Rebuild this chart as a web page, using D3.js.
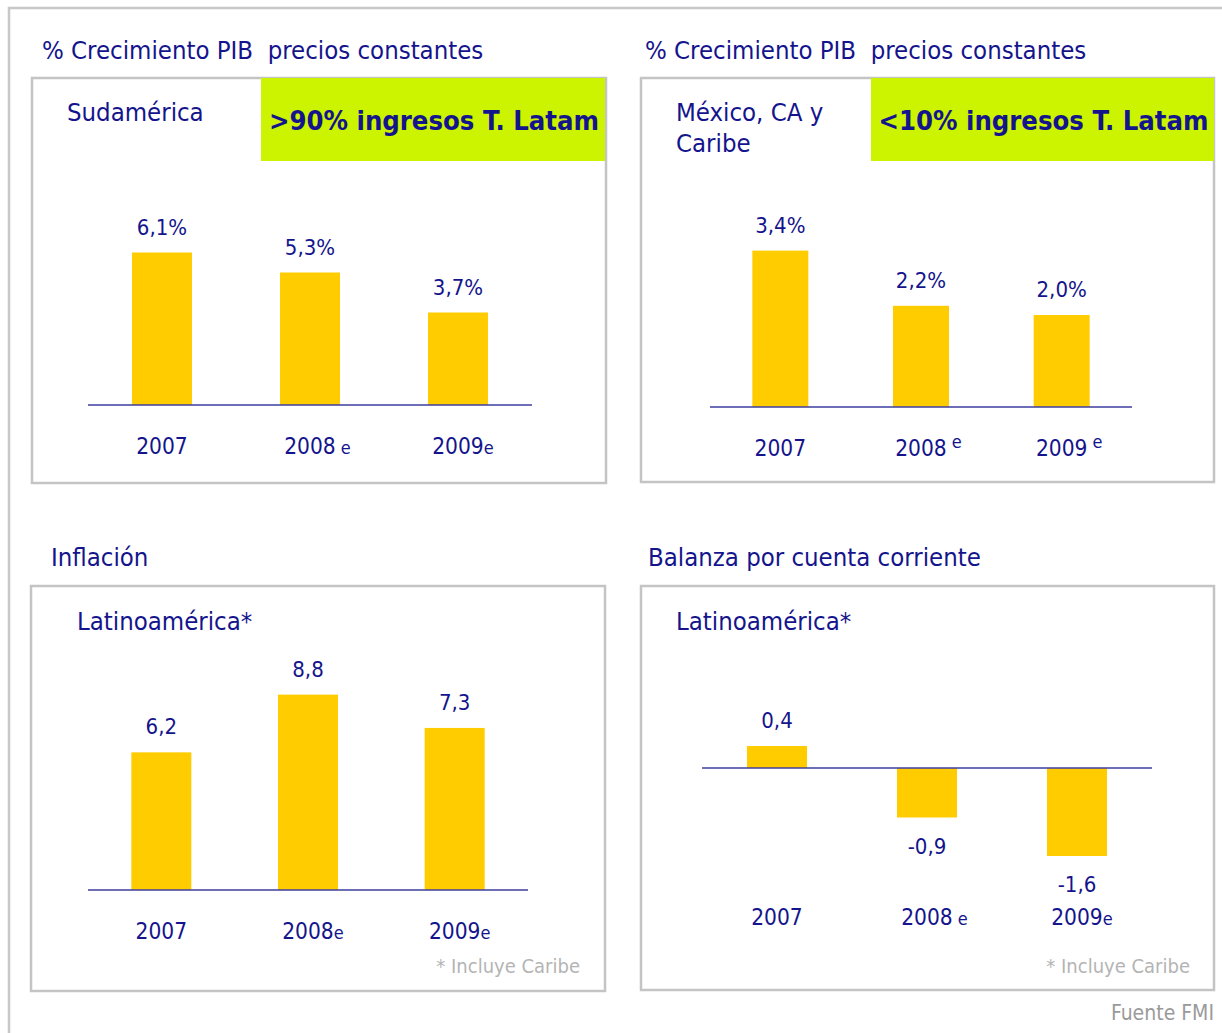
<!DOCTYPE html>
<html>
<head>
<meta charset="utf-8">
<script src="https://cdn.jsdelivr.net/npm/d3@7"></script>
<style>
  body { margin: 0; background: #fff; }
  svg text { font-family: 'DejaVu Sans Condensed', 'DejaVu Sans', sans-serif; white-space: pre; }
</style>
</head>
<body>
<script>
// datos (Fuente FMI)
var years = ["2007", "2008", "2009"];
var suffixSud = ["", " e", "e"];
var suffixMex = ["", " e", " e"];
var suffixInf = ["", "e", "e"];
var suffixBal = ["", " e", "e"];

var pibSudamerica = [6.1, 5.3, 3.7];
var pibMexico = [3.4, 2.2, 2.0];
var inflacion = [6.2, 8.8, 7.3];
var balanza = [0.4, -0.9, -1.6];

var labelsSud = ["6,1%", "5,3%", "3,7%"];
var labelsMex = ["3,4%", "2,2%", "2,0%"];
var labelsInf = ["6,2", "8,8", "7,3"];
var labelsBal = ["0,4", "-0,9", "-1,6"];

var azul = "#14148c";
var amarillo = "#ffcc00";
var verde = "#ccf400";
var gris = "#c4c4c4";

var svg = d3.select("body").append("svg")
    .attr("width", 1222)
    .attr("height", 1033);

// marco exterior
svg.append("path")
    .attr("d", "M9,1033 V8 H1222")
    .attr("fill", "none")
    .attr("stroke", "#c8c8c8")
    .attr("stroke-width", 2.5);

// configuracion de los cuatro paneles
var panels = [
  { title: "% Crecimiento PIB  precios constantes", tx: 42, ty: 59,
    box: [32, 78, 574, 405], sub: ["Sudamérica"], sx: 67, sy: 121,
    green: { x: 261, w: 344, text: ">90% ingresos T. Latam" },
    values: pibSudamerica, labels: labelsSud, suffix: suffixSud, raise: false,
    xr: [88, 532], pad: 0.595, dom: [0, 8], yr: [405, 205], yearY: 454 },
  { title: "% Crecimiento PIB  precios constantes", tx: 645, ty: 59,
    box: [641, 78, 573, 404], sub: ["México, CA y", "Caribe"], sx: 676, sy: 121,
    green: { x: 871, w: 343, text: "<10% ingresos T. Latam" },
    values: pibMexico, labels: labelsMex, suffix: suffixMex, raise: true,
    xr: [710, 1132], pad: 0.602, dom: [0, 4], yr: [407, 223], yearY: 456 },
  { title: "Inflación", tx: 51, ty: 566,
    box: [31, 586, 574, 405], sub: ["Latinoamérica*"], sx: 77, sy: 630,
    values: inflacion, labels: labelsInf, suffix: suffixInf, raise: false,
    xr: [88, 528], pad: 0.591, dom: [0, 10], yr: [890, 668], yearY: 939,
    note: { x: 580, y: 973 } },
  { title: "Balanza por cuenta corriente", tx: 648, ty: 566,
    box: [641, 586, 573, 404], sub: ["Latinoamérica*"], sx: 676, sy: 630,
    values: balanza, labels: labelsBal, suffix: suffixBal, raise: false,
    xr: [702, 1152], pad: 0.6, dom: [-2, 1], yr: [878, 713], yearY: 925,
    note: { x: 1190, y: 973 } }
];

panels.forEach(function(p) {
    var g = svg.append("g");

    g.append("text")
        .attr("x", p.tx).attr("y", p.ty)
        .attr("fill", azul)
        .attr("font-size", 25.5)
        .text(p.title);

    g.append("rect")
        .attr("x", p.box[0]).attr("y", p.box[1])
        .attr("width", p.box[2]).attr("height", p.box[3])
        .attr("fill", "#fff")
        .attr("stroke", gris)
        .attr("stroke-width", 2.5);

    if (p.green) {
        g.append("rect")
            .attr("x", p.green.x).attr("y", p.box[1])
            .attr("width", p.green.w).attr("height", 83)
            .attr("fill", verde);
        g.append("text")
            .attr("x", p.green.x + p.green.w / 2 + 1).attr("y", p.box[1] + 52)
            .attr("text-anchor", "middle")
            .attr("fill", azul)
            .attr("font-weight", "bold")
            .attr("font-size", 27.2)
            .text(p.green.text);
    }

    p.sub.forEach(function(s, i) {
        g.append("text")
            .attr("x", p.sx).attr("y", p.sy + i * 31)
            .attr("fill", azul)
            .attr("font-size", 25.5)
            .text(s);
    });

    var x = d3.scaleBand()
        .domain(years)
        .range(p.xr)
        .paddingInner(p.pad)
        .paddingOuter(p.pad / 2);
    var y = d3.scaleLinear()
        .domain(p.dom)
        .range(p.yr);

    var data = years.map(function(yr, i) {
        return { year: yr, value: p.values[i], label: p.labels[i], suffix: p.suffix[i] };
    });

    g.selectAll(".bar")
        .data(data)
        .enter().append("rect")
        .attr("class", "bar")
        .attr("x", function(d) { return x(d.year); })
        .attr("width", x.bandwidth())
        .attr("y", function(d) { return y(Math.max(0, d.value)); })
        .attr("height", function(d) { return Math.abs(y(d.value) - y(0)); })
        .attr("fill", amarillo);

    // linea del eje en cero
    g.append("line")
        .attr("x1", p.xr[0]).attr("x2", p.xr[1])
        .attr("y1", y(0)).attr("y2", y(0))
        .attr("stroke", "#3c3ca0")
        .attr("stroke-width", 1.5);

    g.selectAll(".val")
        .data(data)
        .enter().append("text")
        .attr("class", "val")
        .attr("x", function(d) { return x(d.year) + x.bandwidth() / 2; })
        .attr("y", function(d) { return d.value >= 0 ? y(d.value) - 18 : y(d.value) + 36; })
        .attr("text-anchor", "middle")
        .attr("fill", azul)
        .attr("font-size", 22)
        .text(function(d) { return d.label; });

    var yearText = g.selectAll(".yr")
        .data(data)
        .enter().append("text")
        .attr("class", "yr")
        .attr("x", function(d) { return x(d.year) + x.bandwidth() / 2; })
        .attr("y", p.yearY)
        .attr("text-anchor", "middle")
        .attr("fill", azul)
        .attr("font-size", 22.5)
        .text(function(d) { return d.year; });

    // la "e" de estimado, mas pequena
    yearText.each(function(d) {
        if (!d.suffix) return;
        var w = this.getComputedTextLength();
        var cx = x(d.year) + x.bandwidth() / 2;
        g.append("text")
            .attr("x", cx + w / 2 + (d.suffix.charAt(0) === " " ? 5 : 0))
            .attr("y", p.yearY - (p.raise ? 8 : 0))
            .attr("fill", azul)
            .attr("font-size", 18)
            .text(d.suffix.trim());
    });

    if (p.note) {
        g.append("text")
            .attr("x", p.note.x).attr("y", p.note.y)
            .attr("text-anchor", "end")
            .attr("fill", "#b4b4b4")
            .attr("font-size", 20)
            .text("* Incluye Caribe");
    }
});

svg.append("text")
    .attr("x", 1214).attr("y", 1020)
    .attr("text-anchor", "end")
    .attr("fill", "#9a9a9a")
    .attr("font-size", 21)
    .text("Fuente FMI");
</script>
</body>
</html>
